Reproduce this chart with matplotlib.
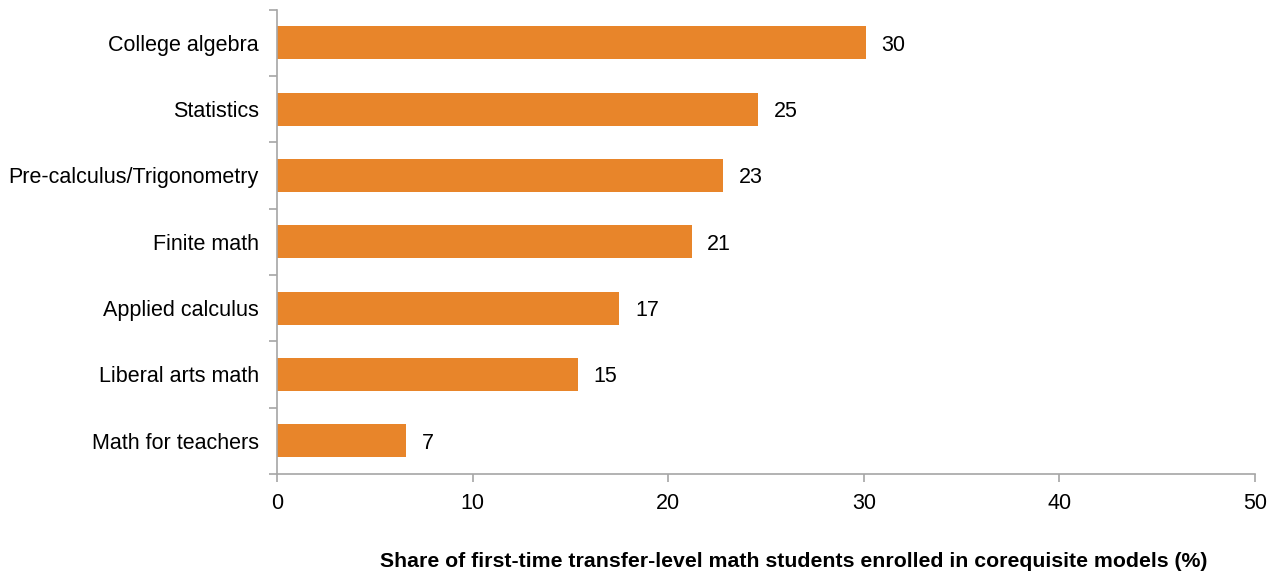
import numpy as np
import matplotlib
matplotlib.use("Agg")
import matplotlib.pyplot as plt
from matplotlib.ticker import FixedLocator, NullFormatter

plt.rcParams["font.family"] = ["Liberation Sans", "DejaVu Sans"]

courses = [
    "College algebra",
    "Statistics",
    "Pre-calculus/Trigonometry",
    "Finite math",
    "Applied calculus",
    "Liberal arts math",
    "Math for teachers",
]
shares = [30.1, 24.6, 22.8, 21.2, 17.5, 15.4, 6.6]
share_labels = ["30", "25", "23", "21", "17", "15", "7"]

bar_color = "#E8852A"
axis_gray = "#A6A6A6"
fs = 15.5

fig = plt.figure(figsize=(12.74, 5.75), dpi=100)
ax = fig.add_axes([0.2174, 0.176, 0.7677, 0.807])

y = np.arange(len(courses))
ax.barh(y, shares, height=0.5, color=bar_color)

for yi, v, lab in zip(y, shares, share_labels):
    ax.text(v + 0.8, yi, lab, va="center_baseline", ha="left", fontsize=fs)

ax.set_xlim(0, 50)
ax.set_ylim(len(courses) - 0.5, -0.5)
ax.set_xticks([0, 10, 20, 30, 40, 50])
ax.tick_params(axis="x", labelsize=fs, colors=axis_gray, labelcolor="black",
               length=6, width=1.2, pad=8)

ax.set_yticks(y)
ax.set_yticklabels(courses, fontsize=fs)
ax.tick_params(axis="y", which="major", length=0, pad=13)
ax.yaxis.set_minor_locator(FixedLocator(np.arange(-0.5, len(courses), 1.0)))
ax.yaxis.set_minor_formatter(NullFormatter())
ax.tick_params(axis="y", which="minor", length=6, width=1.2, color=axis_gray)

for side in ["top", "right"]:
    ax.spines[side].set_visible(False)
for side in ["left", "bottom"]:
    ax.spines[side].set_color(axis_gray)
    ax.spines[side].set_linewidth(1.2)

ax.set_xlabel("Share of first-time transfer-level math students enrolled in corequisite models (%)",
              fontsize=15.3, fontweight="bold")
ax.xaxis.set_label_coords(0.528, -0.168)

fig.savefig("out.png", dpi=100)
